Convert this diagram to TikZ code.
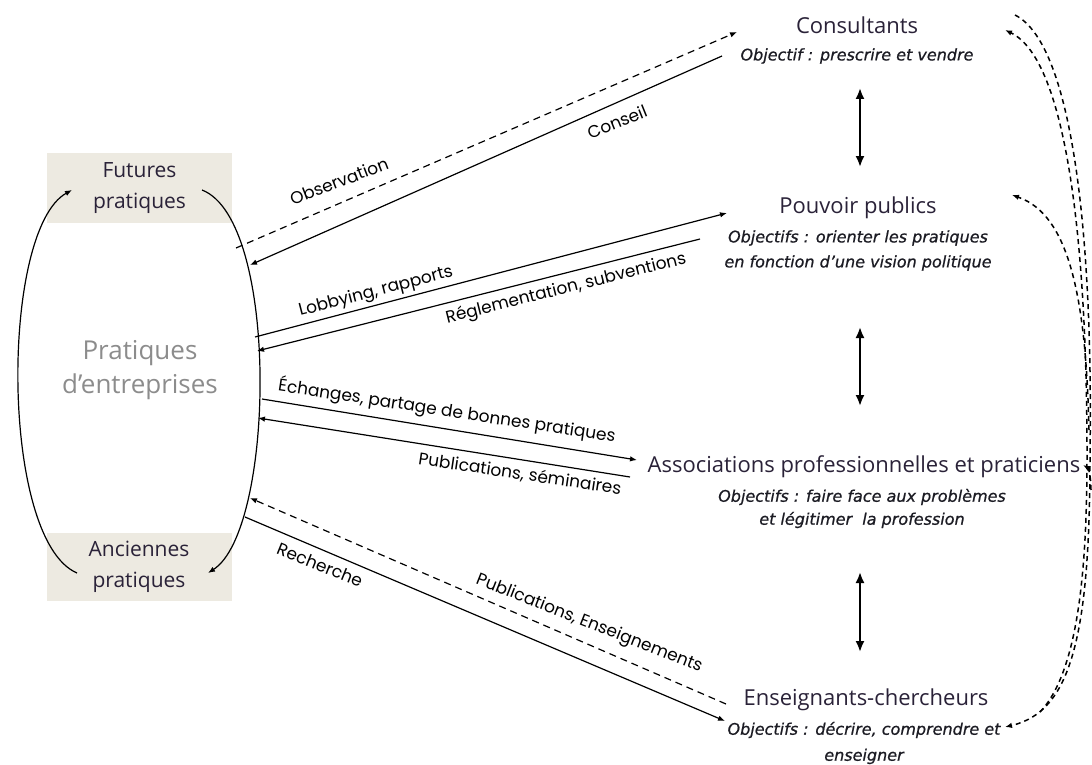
\documentclass[tikz,border=0pt]{standalone}
\usepackage{fontspec}
\setmainfont{Open Sans}
\newfontfamily\lblfont{Poppins}
\newfontfamily\objfont{DejaVu Sans}[ItalicFeatures={FakeBold=0.8}]
\usetikzlibrary{arrows.meta}
\definecolor{boxbg}{HTML}{EDEAE1}
\definecolor{titlec}{HTML}{2A2238}
\definecolor{grayc}{HTML}{8C8C8C}
\definecolor{objc}{HTML}{1C1C24}
\tikzset{
 tipend/.style={-{Latex[length=7pt,width=5.5pt]}},
 conn/.style={line width=1.2pt, black},
 dconn/.style={conn, dash pattern=on 7pt off 5pt},
 rdash/.style={line width=1.5pt, black, dash pattern=on 5pt off 4pt},
 lbl/.style={font=\lblfont\fontsize{17}{19}\selectfont, inner sep=0pt},
 ttl/.style={font=\fontsize{22}{26}\selectfont, text=titlec, inner sep=0pt},
 obj/.style={font=\objfont\itshape\fontsize{16}{25}\selectfont, text=objc, align=center, inner sep=0pt},
 bigarr/.style={line width=2pt, {Latex[length=11pt,width=9pt]}-{Latex[length=11pt,width=9pt]}},
 pbox/.style={fill=boxbg, minimum width=185pt, minimum height=70pt, align=center, font=\fontsize{21}{31}\selectfont, text=titlec, inner sep=0pt},
}
\begin{document}
\begin{tikzpicture}[x=1pt,y=-1pt]
\useasboundingbox (0,0) rectangle (1092,765);

% left boxes
\node[pbox] (fut) at (139.5,188) {Futures\\pratiques};
\node[pbox, minimum height=68pt] (anc) at (139,567) {Anciennes\\pratiques};
\node[font=\fontsize{26}{34}\selectfont, text=grayc, align=center, inner sep=0pt] (pe) at (140,370) {Pratiques\\d’entreprises};

% cycle arcs
\coordinate (lA) at (77,573);
\coordinate (lB) at (72,190);
\coordinate (rA) at (202,190);
\coordinate (rB) at (208,573);
\draw[conn, tipend] (lA) .. controls (0,540) and (0,230) .. (lB);
\draw[conn, tipend] (rA) .. controls (280,220) and (275,530) .. (rB);

% right titles
\node[ttl] (cons) at (857,25) {Consultants};
\node[obj] (consO) at (857,56) {Objectif : prescrire et vendre};
\node[ttl] (pouv) at (858,208) {Pouvoir publics};
\node[obj] (pouvO) at (858,250.5) {Objectifs : orienter les pratiques\\en fonction d’une vision politique};
\node[ttl] (asso) at (864,467) {Associations professionnelles et praticiens};
\node[obj, font=\objfont\itshape\fontsize{16}{23}\selectfont] (assoO) at (862,508.5) {Objectifs : faire face aux problèmes\\et légitimer\ \ la profession};
\node[ttl] (ens) at (866,700) {Enseignants-chercheurs};
\node[obj, font=\objfont\itshape\fontsize{16}{26}\selectfont] (ensO) at (864,743) {Objectifs : décrire, comprendre et\\enseigner};

% vertical double arrows
\coordinate (v1a) at (860,88);  \coordinate (v1b) at (860,167);
\coordinate (v2a) at (860,327); \coordinate (v2b) at (860,406);
\coordinate (v3a) at (860,572); \coordinate (v3b) at (860,652);
\draw[bigarr] (v1a) -- (v1b);
\draw[bigarr] (v2a) -- (v2b);
\draw[bigarr] (v3a) -- (v3b);

% attachment points
\coordinate (obsS) at (236,248);  \coordinate (obsE) at (737,32);
\coordinate (conS) at (722,56);   \coordinate (conE) at (250,265);
\coordinate (lobS) at (255,337);  \coordinate (lobE) at (727,213);
\coordinate (regS) at (700,239);  \coordinate (regE) at (257,351);
\coordinate (echS) at (262,399);  \coordinate (echE) at (637,460);
\coordinate (pubS) at (630,477);  \coordinate (pubE) at (258,418);
\coordinate (peS)  at (726,704);  \coordinate (peE)  at (250,498);
\coordinate (recS) at (245,517);  \coordinate (recE) at (725,721);

\draw[dconn, tipend] (obsS) -- (obsE);
\draw[conn, tipend] (conS) -- (conE);
\draw[conn, tipend] (lobS) -- (lobE);
\draw[conn, tipend] (regS) -- (regE);
\draw[conn, tipend] (echS) -- (echE);
\draw[conn, tipend] (pubS) -- (pubE);
\draw[dconn, tipend] (peS) -- (peE);
\draw[conn, tipend] (recS) -- (recE);

% labels
\node[lbl, rotate=21] (lObs) at (339,181) {Observation};
\node[lbl, rotate=22] (lCon) at (617,122) {Conseil};
\node[lbl, rotate=14.5] (lLob) at (376,292) {Lobbying, rapports};
\node[lbl, rotate=14] (lReg) at (566,289) {Réglementation, subventions};
\node[lbl, rotate=-8.7] (lEch) at (447,411) {Échanges, partage de bonnes pratiques};
\node[lbl, rotate=-8.5] (lPub) at (520,474) {Publications, séminaires};
\node[lbl, rotate=-22] (lRec) at (320,565) {Recherche};
\node[lbl, rotate=-21.5] (lPE) at (589,624) {Publications, Enseignements};

% right feedback dashed curves
\coordinate (fTop) at (1015,15);
\coordinate (fC) at (1005,30);
\coordinate (fP) at (1012,195);
\coordinate (fA) at (1083,465);
\coordinate (fE) at (1005,727);
\coordinate (fM) at (1090,455);
\coordinate (fBot) at (1040,712);
\draw[rdash, tipend] (fTop) .. controls (1075,45) and (1093,250) .. (fM) .. controls (1090,640) and (1070,712) .. (fE);
\draw[rdash, tipend] (fBot) .. controls (1080,670) and (1087,560) .. (1087,455) .. controls (1087,250) and (1068,60) .. (fC);
\draw[rdash, tipend] (1089,430) .. controls (1086,300) and (1070,215) .. (fP);
\draw[rdash, tipend] (1091,490) .. controls (1091,475) and (1088,468) .. (fA);
\end{tikzpicture}
\end{document}
